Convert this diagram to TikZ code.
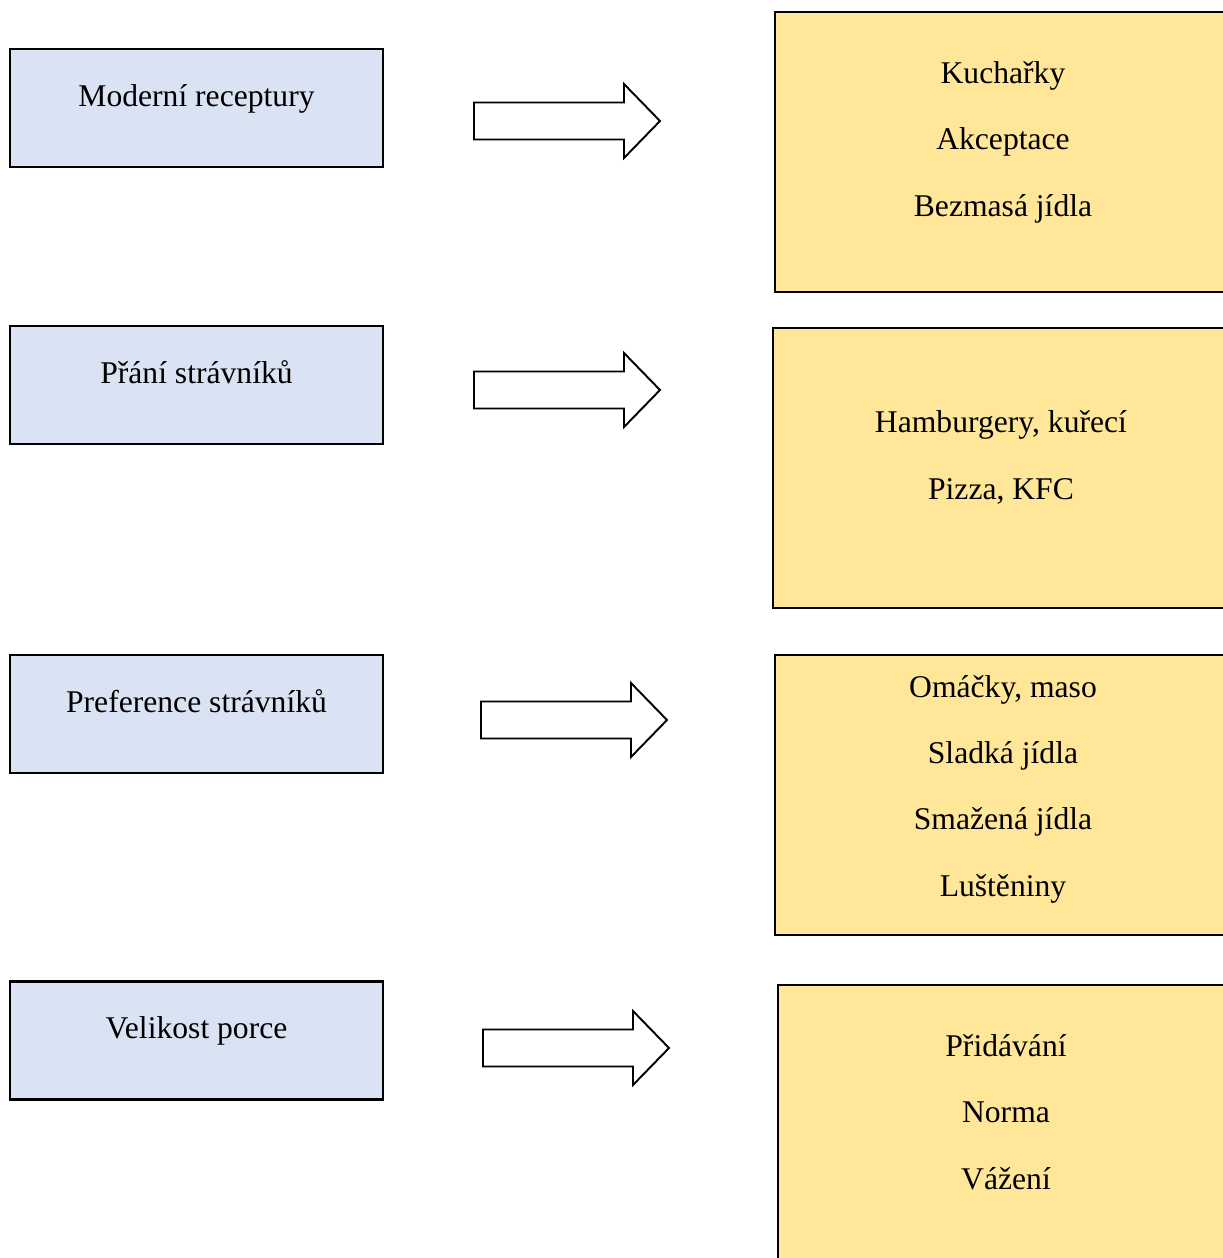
\documentclass[tikz,border=0pt]{standalone}
\usepackage{fontspec}
\setmainfont{Liberation Serif}
\usetikzlibrary{shapes,arrows}

\definecolor{leftblue}{HTML}{DAE3F3}
\definecolor{rightyellow}{HTML}{FFE699}

\begin{document}
\begin{tikzpicture}[x=0.02cm,y=-0.02cm,font=\fontsize{18}{22}\selectfont]

\clip (0,0) rectangle (1223,1258);

\tikzset{leftbox/.style={rectangle,draw,line width=1.5pt,fill=leftblue,minimum width=7.46cm,minimum height=2.36cm},
         rightbox/.style={rectangle,draw,line width=1.5pt,fill=rightyellow,minimum width=9.12cm,minimum height=5.6cm},
         label/.style={anchor=base,inner sep=0pt}}

\node [leftbox] (v1) at (196.5,108) {};
\node [leftbox] (v2) at (196.5,385) {};
\node [leftbox] (v3) at (196.5,714) {};
\node [leftbox] (v4) at (196.5,1040.5) {};

\node[label] (t1) at (196.5,106) {Moderní receptury};
\node[label] (t2) at (196.5,383) {Přání strávníků};
\node[label] (t3) at (196.5,712) {Preference strávníků};
\node[label] (t4) at (196.5,1038) {Velikost porce};

\foreach \x/\y in {474/121, 474/390, 481/720, 483/1048}
    \draw[line width=1.1pt,fill=white] (\x,\y-18.5) -- (\x+150,\y-18.5) -- (\x+150,\y-37) -- (\x+186,\y)
        -- (\x+150,\y+37) -- (\x+150,\y+18.5) -- (\x,\y+18.5) -- cycle;

\node [rightbox] (w1) at (1003,152) {};
\node [rightbox] (w2) at (1001,468) {};
\node [rightbox] (w3) at (1003,795) {};
\node [rightbox] (w4) at (1006,1125) {};

\node[label] (s1) at (1003,83) {Kuchařky};
\node[label] (s2) at (1003,149) {Akceptace};
\node[label] (s3) at (1003,216) {Bezmasá jídla};
\node[label] (s4) at (1001,432) {Hamburgery, kuřecí};
\node[label] (s5) at (1001,499) {Pizza, KFC};
\node[label] (s6) at (1003,697) {Omáčky, maso};
\node[label] (s7) at (1003,763) {Sladká jídla};
\node[label] (s8) at (1003,829) {Smažená jídla};
\node[label] (s9) at (1003,896) {Luštěniny};
\node[label] (s10) at (1006,1056) {Přidávání};
\node[label] (s11) at (1006,1122) {Norma};
\node[label] (s12) at (1006,1189) {Vážení};

\end{tikzpicture}
\end{document}
